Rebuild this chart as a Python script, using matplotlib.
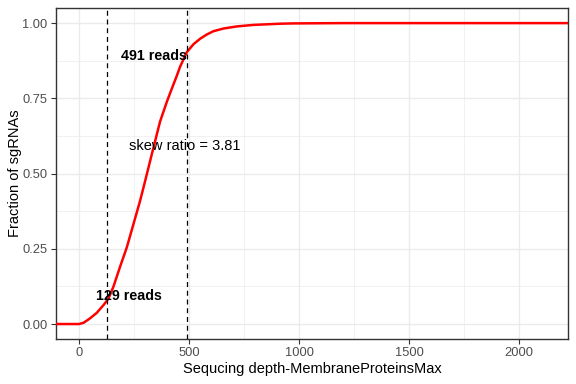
import matplotlib
matplotlib.use("Agg")
import matplotlib.pyplot as plt
from matplotlib.ticker import MultipleLocator

plt.rcParams["font.family"] = ["Liberation Sans", "DejaVu Sans"]

# ECDF of read counts per sgRNA
depth = [-150, 0, 20, 50, 80, 111, 133, 156, 186, 217, 247, 277, 300, 330, 368,
         399, 414, 444, 459, 489, 520, 550, 580, 610, 656, 717, 792, 914, 973,
         1200, 2300]
fraction = [0, 0, 0.004, 0.019, 0.037, 0.063, 0.084, 0.124, 0.19, 0.255, 0.332,
            0.409, 0.475, 0.563, 0.673, 0.739, 0.768, 0.825, 0.855, 0.903, 0.93,
            0.948, 0.962, 0.973, 0.982, 0.989, 0.994, 0.998, 0.999, 1.0, 1.0]

q_low, q_high = 129, 491
skew_ratio = 3.81

x_ticks = [0, 500, 1000, 1500, 2000]
y_ticks = [0.0, 0.25, 0.5, 0.75, 1.0]

fig = plt.figure(figsize=(5.76, 3.84), dpi=100)
ax = fig.add_axes([0.0972, 0.117, 0.889, 0.862])

ax.set_xlim(-105, 2222)
ax.set_ylim(-0.05, 1.05)
ax.set_xticks(x_ticks)
ax.set_yticks(y_ticks)
ax.set_yticklabels([f"{v:.2f}" for v in y_ticks])
ax.xaxis.set_minor_locator(MultipleLocator(250))
ax.yaxis.set_minor_locator(MultipleLocator(0.125))
ax.grid(which="major", color="#EBEBEB", lw=1.0)
ax.grid(which="minor", color="#EBEBEB", lw=0.5)
ax.set_axisbelow(True)
for s in ax.spines.values():
    s.set_color("#333333")
    s.set_linewidth(1.0)
ax.tick_params(which="major", length=3.5, width=0.8, color="#333333",
               labelsize=9.3, labelcolor="#4D4D4D", pad=2.5)
ax.tick_params(which="minor", length=0)

ax.plot(depth, fraction, color="red", lw=1.8, zorder=3, solid_joinstyle="round")
ax.axvline(q_low, color="black", lw=0.9, ls=(0, (4, 3)), zorder=4)
ax.axvline(q_high, color="black", lw=0.9, ls=(0, (4, 3)), zorder=4)

ax.text(227, 0.092, f"{q_low} reads", ha="center", va="center",
        fontsize=10.3, fontweight="bold", color="black", zorder=5)
ax.text(q_high, 0.891, f"{q_high} reads", ha="right", va="center",
        fontsize=10.3, fontweight="bold", color="black", zorder=5)
ax.text(482, 0.59, f"skew ratio = {skew_ratio:.2f}", ha="center", va="center",
        fontsize=10.5, color="black", zorder=5)

ax.set_xlabel("Sequcing depth-MembraneProteinsMax", fontsize=10.5, labelpad=2)
ax.set_ylabel("Fraction of sgRNAs", fontsize=10.5, labelpad=0)

fig.savefig("out.png", dpi=100)
